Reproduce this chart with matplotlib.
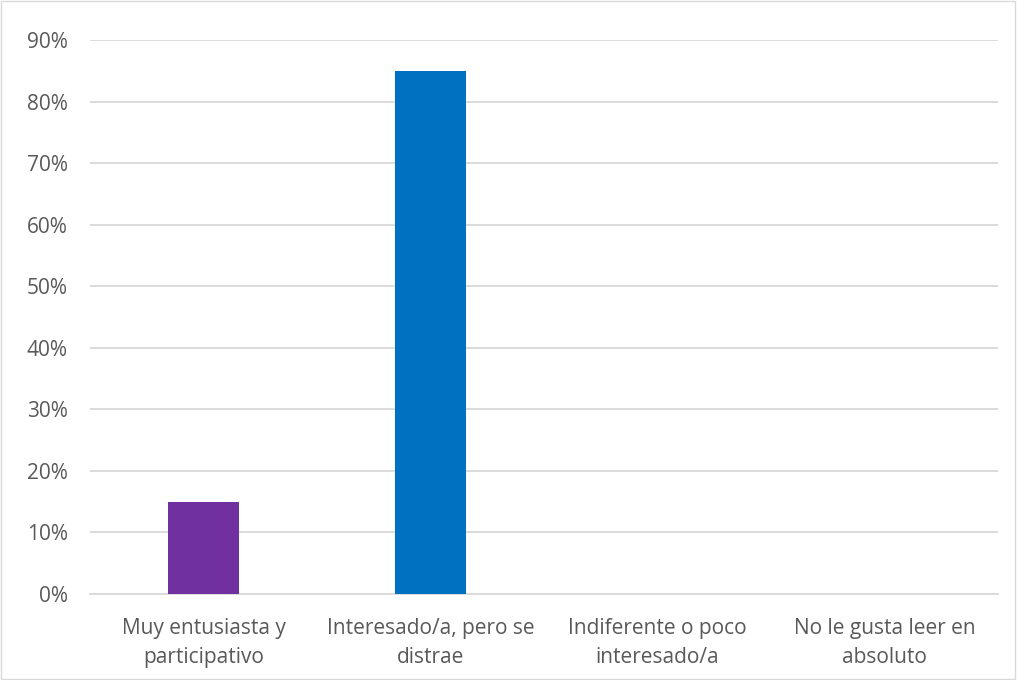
import matplotlib.pyplot as plt
from matplotlib.patches import Rectangle
from matplotlib.ticker import PercentFormatter

# Data
categories = ["Muy entusiasta y\nparticipativo", "Interesado/a, pero se\ndistrae",
              "Indiferente o poco\ninteresado/a", "No le gusta leer en\nabsoluto"]
values = [0.15, 0.85, 0.0, 0.0]
bar_colors = ["#7030A0", "#0070C0", "#0070C0", "#0070C0"]
y_ticks = [0.0, 0.1, 0.2, 0.3, 0.4, 0.5, 0.6, 0.7, 0.8, 0.9]

TEXT_COLOR = "#595959"
GRID_COLOR = "#D9D9D9"
FONT_SIZE = 15

plt.rcParams["font.family"] = ["Open Sans", "DejaVu Sans"]

fig = plt.figure(figsize=(10.17, 6.80), dpi=100)
ax = fig.add_axes([90 / 1017, 1 - 594 / 680, 908 / 1017, 554 / 680])

x = range(len(categories))
ax.bar(x, values, width=0.317, color=bar_colors, zorder=3)

ax.set_xlim(-0.5, len(categories) - 0.5)
ax.set_ylim(0, 0.9)
ax.set_yticks(y_ticks)
ax.yaxis.set_major_formatter(PercentFormatter(1.0, decimals=0))
ax.set_xticks(list(x))
ax.set_xticklabels(categories, linespacing=1.55)

ax.grid(axis="y", color=GRID_COLOR, linewidth=1.3, zorder=0)
for side in ["top", "right", "left"]:
    ax.spines[side].set_visible(False)
ax.spines["bottom"].set_color(GRID_COLOR)
ax.spines["bottom"].set_linewidth(1.3)

ax.tick_params(axis="both", length=0, labelsize=FONT_SIZE, labelcolor=TEXT_COLOR)
ax.tick_params(axis="y", pad=16)
ax.tick_params(axis="x", pad=17)

# Thin frame around the whole chart area
fig.patches.append(Rectangle((0.001, 0.001), 0.997, 0.997, transform=fig.transFigure,
                             fill=False, edgecolor=GRID_COLOR, linewidth=1.0))

fig.savefig("out.png", dpi=100)
